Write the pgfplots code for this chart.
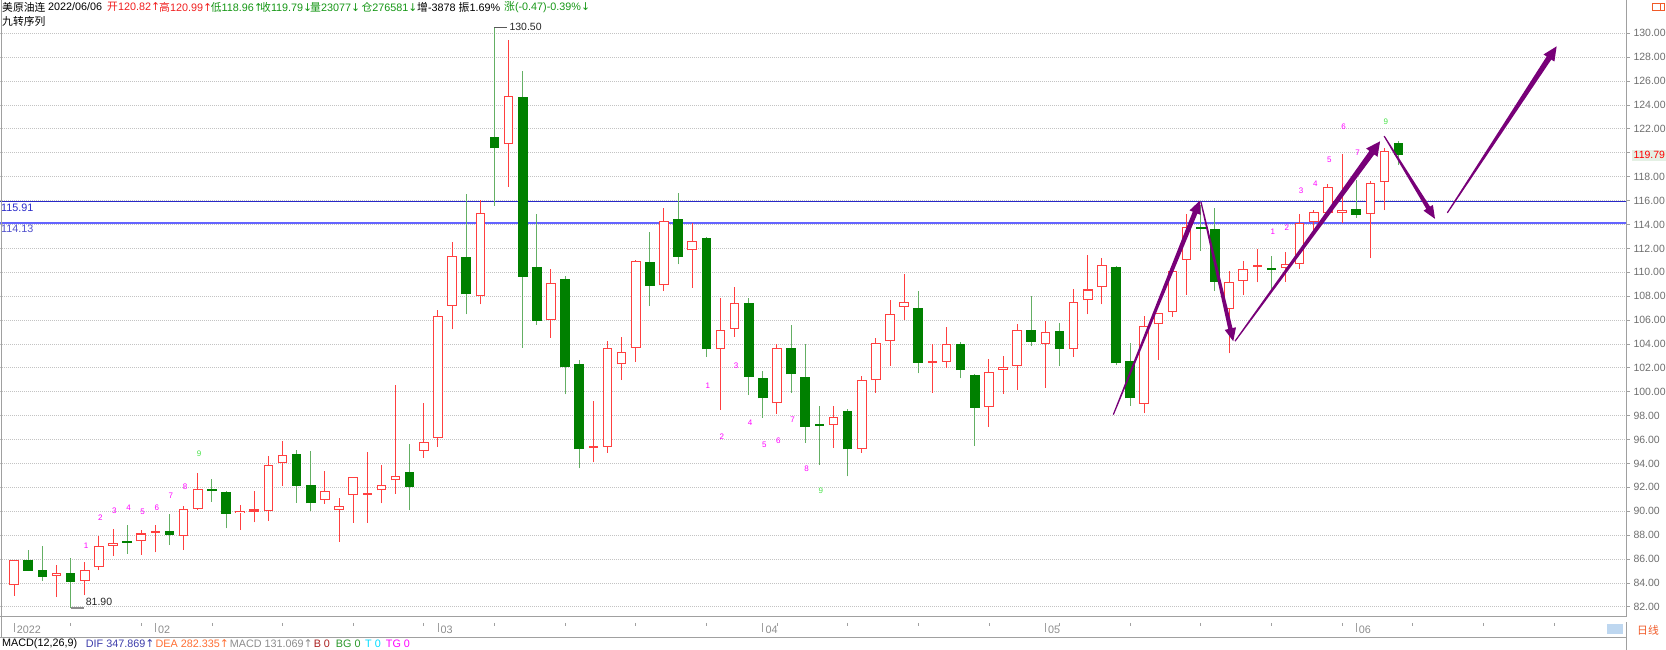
\documentclass[border=0pt]{standalone}
\usepackage{pgfplots}
\pgfplotsset{compat=1.18}
\usepackage{pgfplotstable}
\usepackage{fontspec}
\setmainfont{Liberation Sans}
\newfontfamily\cjk{Noto Sans CJK SC}
\newfontfamily\dv{DejaVu Sans}
\usetikzlibrary{calc}

\definecolor{upred}{RGB}{255,64,64}
\definecolor{dngreen}{RGB}{0,128,0}
\definecolor{wickgreen}{RGB}{100,175,100}
\definecolor{gridc}{RGB}{195,195,195}
\definecolor{axisc}{RGB}{160,160,160}
\definecolor{tickc}{RGB}{110,110,110}
\definecolor{arrowc}{RGB}{120,0,120}
\definecolor{labm}{RGB}{255,0,255}
\definecolor{labg}{RGB}{70,225,70}
\definecolor{lineA}{RGB}{40,40,200}
\definecolor{lineB}{RGB}{100,100,255}
\definecolor{hdred}{RGB}{240,30,30}
\definecolor{hdgreen}{RGB}{20,150,20}
\definecolor{lastbg}{RGB}{228,240,228}
\definecolor{scrollc}{RGB}{190,215,240}
\definecolor{orangec}{RGB}{240,90,40}
\definecolor{difc}{RGB}{60,60,170}
\definecolor{deac}{RGB}{255,110,50}
\definecolor{bc}{RGB}{170,30,30}
\definecolor{bgc}{RGB}{40,150,40}
\definecolor{tc}{RGB}{0,220,255}
\definecolor{tgc}{RGB}{255,0,255}

% candles: index, open, high, low, close
\pgfplotstableread{
i o h l c
1 83.79 85.95 82.95 85.90
4 84.62 85.51 82.81 84.82
6 84.15 85.77 82.98 85.12
7 85.32 87.91 85.07 87.10
8 87.13 88.53 86.24 87.33
10 87.47 88.42 86.38 88.14
11 88.19 88.81 86.57 88.36
13 87.97 90.40 86.77 90.15
14 90.20 93.19 90.09 91.87
17 89.87 90.56 88.42 90.06
18 89.98 91.73 89.06 90.03
19 90.00 94.66 89.17 93.86
20 94.01 95.87 92.11 94.75
23 90.95 93.40 90.64 91.70
24 90.11 91.09 87.46 90.47
25 91.36 92.90 89.05 92.87
26 91.39 94.99 89.05 91.56
27 91.75 93.87 90.67 92.20
28 92.59 100.60 91.48 92.98
30 95.07 99.09 94.49 95.83
31 96.16 106.82 95.38 106.34
32 107.18 112.57 105.23 111.39
34 108.02 116.02 107.32 115.00
36 120.77 129.41 117.14 124.78
39 106.04 110.31 104.53 109.11
42 95.28 99.21 94.10 95.42
43 95.39 104.24 94.89 103.63
44 102.29 104.60 100.98 103.29
45 103.68 111.02 102.51 110.93
47 108.90 115.40 108.42 114.28
49 111.83 114.09 108.70 112.58
51 103.54 107.81 98.47 105.13
52 105.27 108.79 104.60 107.42
55 99.02 103.96 98.16 103.63
59 97.20 98.79 95.31 97.87
61 95.17 101.36 94.89 101.00
62 100.95 104.46 99.92 104.10
63 104.24 107.64 102.15 106.53
64 107.11 109.82 106.00 107.53
66 102.43 103.96 99.92 102.51
67 102.51 105.41 102.01 103.96
70 98.72 102.76 97.07 101.67
71 101.81 102.99 99.84 102.06
72 102.15 105.64 100.14 105.16
74 104.02 105.91 100.33 105.02
76 103.54 108.56 102.93 107.53
77 107.64 111.41 106.47 108.56
78 108.76 111.21 107.31 110.60
81 98.98 106.37 98.20 105.53
82 105.65 106.60 102.66 106.57
83 106.65 110.20 106.29 110.14
84 111.03 114.85 108.10 113.82
87 106.93 110.14 103.22 109.22
88 109.30 110.97 108.10 110.28
89 110.46 111.92 109.16 110.56
91 110.39 111.67 109.22 110.67
92 110.67 114.85 110.28 114.15
93 114.24 115.21 113.54 115.02
94 114.93 117.36 114.80 117.11
95 114.93 119.87 114.10 115.21
97 114.88 117.64 111.17 117.50
98 117.53 120.37 115.21 120.18
}\upcandles

\pgfplotstableread{
i o h l c
2 85.90 86.80 85.00 85.04
3 85.07 87.10 84.20 84.51
5 84.87 86.13 81.90 84.09
9 87.52 88.86 86.43 87.36
12 88.33 89.73 87.16 88.05
15 91.82 92.71 90.79 91.68
16 91.62 91.70 88.56 89.81
21 94.82 95.16 90.72 92.12
22 92.20 95.05 90.03 90.67
29 93.29 95.66 90.08 92.01
33 111.31 116.58 106.48 108.16
35 121.33 130.50 115.55 120.38
37 124.64 126.85 103.69 109.61
38 110.45 114.91 105.59 105.92
40 109.41 109.72 99.79 102.08
41 102.30 102.62 93.60 95.18
46 110.85 113.36 107.17 108.84
48 114.42 116.60 110.66 111.30
50 112.89 112.95 102.90 103.54
53 107.42 107.81 99.72 101.26
54 101.17 101.76 97.82 99.44
56 103.68 105.58 99.92 101.45
57 101.26 104.02 95.72 97.04
58 97.20 98.85 93.86 97.14
60 98.37 98.57 92.93 95.17
65 107.03 108.42 101.53 102.43
68 104.04 104.18 101.12 101.81
69 101.40 101.51 95.45 98.66
73 105.13 107.98 103.82 104.18
75 105.07 105.77 102.15 103.60
79 110.43 110.52 102.23 102.37
80 102.60 104.05 98.84 99.45
85 113.76 115.63 111.78 113.66
86 113.62 115.35 108.44 109.22
90 110.33 111.39 108.52 110.22
96 115.30 117.72 114.57 114.80
99 120.82 120.99 118.96 119.79
}\dncandles

% tapered arrow: start x,y ; tip x,y ; shaft half width ; head half width ; head length
\newcommand{\taper}[7]{%
  \coordinate (S) at (axis cs:#1,#2);
  \coordinate (E) at (axis cs:#3,#4);
  \coordinate (H) at ($(E)!#7!(S)$);
  \fill[arrowc] ($(S)!0.6pt!90:(E)$) -- ($(H)!#5!90:(E)$) -- ($(H)!#6!90:(E)$) -- (E)
     -- ($(H)!#6!-90:(E)$) -- ($(H)!#5!-90:(E)$) -- ($(S)!0.6pt!-90:(E)$) -- cycle;
}

% a vertical segment per row, drawn as an error bar: colour, width
\pgfplotsset{
  bar/.style 2 args={draw=none, mark=none, forget plot,
    error bars/.cd, y dir=plus, y explicit, error mark=none,
    error bar style={draw=#1, line width=#2}},
}

\begin{document}
\begin{tikzpicture}[x=1pt,y=1pt,every node/.style={font=\fontsize{10.8}{12}\selectfont}]
\begin{axis}[
  at={(0,27.7)}, anchor=south west,
  width=1626pt, height=622.3pt, scale only axis,
  xmin=0, xmax=115.1, ymin=81.16, ymax=133.24,
  axis x line*=bottom, axis y line*=right,
  axis line style={draw=axisc, line width=1pt},
  xtick=\empty,
  ytick={82,84,...,118,122,124,...,130},
  extra y ticks={120}, extra y tick labels={},
  extra tick style={grid=major},
  tick align=outside, major tick length=4pt,
  tick style={draw=axisc, line width=0.8pt},
  ymajorgrids,
  grid style={gridc, line width=0.8pt, dash pattern=on 1.2pt off 0.8pt},
  yticklabel style={/pgf/number format/fixed, /pgf/number format/fixed zerofill,
    /pgf/number format/precision=2, /pgf/number format/assume math mode=true,
    font=\fontsize{10.5}{12}\selectfont, text=tickc},
]
% support / resistance lines
\addplot[lineA, line width=1.2pt, forget plot] coordinates {(0,115.91) (115.1,115.91)};
\addplot[lineB, line width=1.2pt, forget plot] coordinates {(0,114.13) (115.1,114.13)};

% wicks
\addplot[bar={upred}{1pt}]
  table[x=i, y=l, y error expr=\thisrow{h}-\thisrow{l}] {\upcandles};
\addplot[bar={wickgreen}{1pt}]
  table[x=i, y=l, y error expr=\thisrow{h}-\thisrow{l}] {\dncandles};

% up bodies: red outline, white inside
\addplot[bar={upred}{9.6pt}]
  table[x=i, y=o, y error expr={max(\thisrow{c}-\thisrow{o},0.17)}] {\upcandles};
\addplot[bar={white}{7.6pt}]
  table[x=i, y expr=\thisrow{o}+0.085, y error expr={max(\thisrow{c}-\thisrow{o}-0.17,0)}] {\upcandles};

% down bodies: filled green
\addplot[bar={dngreen}{9.6pt}]
  table[x=i, y=c, y error expr={max(\thisrow{o}-\thisrow{c},0.17)}] {\dncandles};

% nine-turn sequence
\addplot[draw=none, mark=none, forget plot, nodes near coords, point meta=explicit symbolic,
  nodes near coords align={anchor=center},
  every node near coord/.style={font=\fontsize{8}{8}\selectfont, text=labm, inner sep=0pt}]
  coordinates {(6.1,87.15)[1] (7.1,89.45)[2] (8.1,90.06)[3] (9.1,90.33)[4] (10.1,89.95)[5]
    (11.1,90.33)[6] (12.1,91.26)[7] (13.1,92.04)[8]
    (50.1,100.49)[1] (51.1,96.2)[2] (52.1,102.22)[3] (53.1,97.43)[4] (54.1,95.6)[5]
    (55.1,95.86)[6] (56.1,97.65)[7] (57.1,93.55)[8]
    (90.1,113.43)[1] (91.1,113.71)[2] (92.1,116.86)[3] (93.1,117.4)[4] (94.1,119.43)[5]
    (95.1,122.17)[6] (96.1,119.99)[7]};
\addplot[draw=none, mark=none, forget plot, nodes near coords, point meta=explicit symbolic,
  nodes near coords align={anchor=center},
  every node near coord/.style={font=\fontsize{8}{8}\selectfont, text=labg, inner sep=0pt}]
  coordinates {(14.1,94.8)[9] (58.1,91.73)[9] (98.1,122.64)[9]};

% extremes
\draw[black!65, line width=1.2pt] (axis cs:35,130.5) -- ++(13pt,0pt)
  node[anchor=west, inner sep=1.5pt, text=black!85, font=\fontsize{10.5}{12}\selectfont] {130.50};
\draw[black!45, line width=1.5pt] (axis cs:5,81.9) -- ++(13pt,0pt)
  node[anchor=west, inner sep=1.5pt, yshift=6pt, text=black!85, font=\fontsize{10.5}{12}\selectfont] {81.90};

% level labels
\node[anchor=north west, inner sep=1pt, text=lineA] at (axis cs:0,115.81) {115.91};
\node[anchor=north west, inner sep=1pt, text=lineB!80!black] at (axis cs:0,114.03) {114.13};

% forecast arrows
\taper{78.81}{98.09}{84.94}{116.0}{2.5pt}{6pt}{13pt}
\taper{85.01}{115.89}{87.3}{104.23}{2.2pt}{5.8pt}{13pt}
\taper{87.42}{104.23}{97.69}{120.96}{3pt}{7pt}{14pt}
\taper{97.98}{121.4}{101.58}{114.47}{2.2pt}{5.5pt}{13pt}
\taper{102.45}{114.97}{110.19}{128.91}{2.8pt}{6.5pt}{14pt}

\coordinate (last) at (axis cs:115.1,119.79);
\end{axis}

% last price on the scale
\node[anchor=west, fill=lastbg, inner sep=1.5pt, text=red,
  font=\fontsize{10.5}{12}\selectfont] at ($(last)+(6pt,0pt)$) {119.79};

% frame pieces
\draw[axisc, line width=1pt] (1,12) -- (1,650);
\draw[axisc, line width=1pt] (1626,0) -- (1626,27.7);
\draw[axisc, line width=1pt] (0,12.3) -- (1626,12.3);

% date strip: weekly ticks every five bars, month ticks
\foreach \k in {5,10,...,110}
  \draw[axisc, line width=0.8pt] (\k*14.127,27.2) -- (\k*14.127,24);
\foreach \k/\t in {1/2022,11/02,31/03,54/04,74/05,96/06}{
  \draw[axisc, line width=0.8pt] (\k*14.127,27.2) -- (\k*14.127,18);
  \node[anchor=west, inner sep=0pt, text=black!45] at (\k*14.127+2.5,20.5) {\t};
}
\fill[scrollc] (1607,16) rectangle (1623,26);
\node[anchor=west, inner sep=0pt, text=orangec] at (1637,20) {\cjk 日线};
\draw[orangec, line width=0.8pt] (1652,640) rectangle (1664,647);
\draw[orangec, line width=0.8pt] (1660,640) -- (1660,647);

% header
\begin{scope}[every node/.style={anchor=west, inner sep=0pt, font=\fontsize{10.8}{12}\selectfont}]
\node at (2,643) {\cjk 美原油连};
\node at (48,643) {2022/06/06};
\node[text=hdred] at (107,643) {{\cjk 开}120.82{\dv ↑}};
\node[text=hdred] at (159,643) {{\cjk 高}120.99{\dv ↑}};
\node[text=hdgreen] at (210.7,643) {{\cjk 低}118.96{\dv ↑}};
\node[text=hdgreen] at (260,643) {{\cjk 收}119.79{\dv ↓}};
\node[text=hdgreen] at (310,643) {{\cjk 量}23077{\dv ↓}};
\node[text=hdgreen] at (361.4,643) {{\cjk 仓}276581{\dv ↓}};
\node at (417,643) {{\cjk 增}-3878};
\node at (458.5,643) {{\cjk 振}1.69\%};
\node[text=hdgreen] at (504,643) {{\cjk 涨}(-0.47)-0.39\%{\dv ↓}};
\node at (2,629) {\cjk 九转序列};

% MACD line
\node at (2,6) {MACD(12,26,9)};
\node[text=difc] at (85.7,6) {DIF 347.869{\dv ↑}};
\node[text=deac] at (155.4,6) {DEA 282.335{\dv ↑}};
\node[text=black!45] at (229.6,6) {MACD 131.069{\dv ↑}};
\node[text=bc] at (313.6,6) {B 0};
\node[text=bgc] at (335.7,6) {BG 0};
\node[text=tc] at (365,6) {T 0};
\node[text=tgc] at (385.7,6) {TG 0};
\end{scope}

\pgfresetboundingbox
\path[use as bounding box] (0,0) rectangle (1666,650);
\end{tikzpicture}
\end{document}
